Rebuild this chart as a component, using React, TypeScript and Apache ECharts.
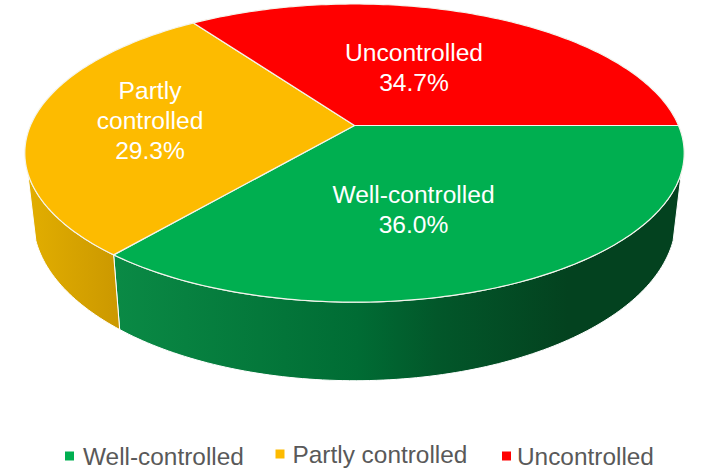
import React, { useEffect, useRef } from "react";
import * as echarts from "echarts";

const categories = ["Well-controlled", "Partly controlled", "Uncontrolled"];
const labelLines = ["Well-controlled", "Partly\ncontrolled", "Uncontrolled"];
const values = [36.0, 29.3, 34.7];
const topColors = ["#00AF50", "#FDBB00", "#FF0000"];
const wallStops = [
  [[0, "#0A8A45"], [0.43, "#006C34"], [0.57, "#02572A"], [0.8, "#03421F"], [1, "#03421F"]],
  [[0, "#E2AE00"], [1, "#CB9800"]],
  [[0, "#990000"], [1, "#990000"]],
];
const labelAnchors = [[413.5, 209], [150, 120], [414, 67]];
const legendLefts = [60, 270.5, 497];
const legendTops = [439, 437, 439];
const legendPadding = [
  [0, 0, 0, 4],
  [0, 0, 4, 3],
  [0, 0, 0, 1],
];

// perspective model of the tilted pie
const CX = 354.5, CY = 125.5, RX = 324, RY = 144, K = 0.185;
const DEPTH = 64, SHRINK = 0.975;
// the wall is only visible between these two silhouette angles
const WALL_FROM = 18, WALL_TO = 162;
const total = values.reduce((a, b) => a + b, 0);

function project(deg: number, lower: boolean): number[] {
  const t = (deg * Math.PI) / 180;
  const u = Math.cos(t);
  const v = -Math.sin(t);
  const s = 1 + K * v;
  const x = (RX * u) / s;
  const y = CY - (RY * v) / s;
  if (!lower) return [CX + x, y];
  return [CX + x * SHRINK, y + DEPTH / s];
}

function arc(from: number, to: number, lower: boolean): number[][] {
  const pts: number[][] = [];
  const n = Math.max(2, Math.ceil(Math.abs(to - from)));
  for (let i = 0; i <= n; i++) pts.push(project(from + ((to - from) * i) / n, lower));
  return pts;
}

export default function App() {
  const ref = useRef<HTMLDivElement>(null);
  useEffect(() => {
    const chart = echarts.init(ref.current!, undefined, { renderer: "svg" });
    const starts: number[] = [];
    values.reduce((acc, v, i) => {
      starts[i] = acc;
      return acc + v;
    }, 0);
    const series = categories.map((name, idx) => ({
      type: "custom",
      name,
      coordinateSystem: "none",
      silent: true,
      itemStyle: { color: topColors[idx] },
      data: [[values[idx]]],
      renderItem: (_p: any, api: any) => {
        const val = api.value(0) as number;
        const from = (starts[idx] / total) * 360;
        const to = from + (val / total) * 360;
        const top = arc(from, to, false);
        const children: any[] = [];
        const wFrom = Math.max(from, WALL_FROM);
        const wTo = Math.min(to, WALL_TO);
        if (wTo > wFrom) {
          const wallTop = arc(wFrom, wTo, false);
          const wallBottom = arc(wFrom, wTo, true).reverse();
          const xs = wallTop.concat(wallBottom).map((p) => p[0]);
          children.push({
            type: "polygon",
            z2: 1,
            shape: { points: wallTop.concat(wallBottom) },
            style: {
              fill: {
                type: "linear",
                x: Math.min(...xs),
                y: 0,
                x2: Math.max(...xs),
                y2: 0,
                global: true,
                colorStops: wallStops[idx].map((s) => ({ offset: s[0], color: s[1] })),
              },
              stroke: "#FFFFFF",
              lineWidth: 1,
            },
          });
        }
        children.push(
          {
            type: "polygon",
            z2: 2,
            shape: { points: [[CX, CY], ...top] },
            style: { fill: topColors[idx], stroke: "#F4F4EC", lineWidth: 1.2, lineJoin: "round" },
          },
          {
            type: "text",
            z2: 3,
            x: labelAnchors[idx][0],
            y: labelAnchors[idx][1],
            style: {
              text: `${labelLines[idx]}\n${val.toFixed(1)}%`,
              fill: "#FFFFFF",
              fontSize: 24.6,
              fontFamily: "'Liberation Sans', Arial, sans-serif",
              lineHeight: 30,
              align: "center",
              verticalAlign: "middle",
            },
          }
        );
        return { type: "group", children };
      },
    }));
    chart.setOption({
      animation: false,
      backgroundColor: "#FFFFFF",
      legend: categories.map((name, i) => ({
        data: [{ name, icon: "rect" }],
        left: legendLefts[i],
        top: legendTops[i],
        itemWidth: 9,
        itemHeight: 9,
        selectedMode: false,
        textStyle: {
          fontSize: 24.4,
          color: "#595959",
          fontFamily: "'Liberation Sans', Arial, sans-serif",
          padding: legendPadding[i],
        },
      })),
      series,
    } as any);
    return () => chart.dispose();
  }, []);
  return <div ref={ref} style={{ position: "fixed", left: 0, top: 0, width: 708, height: 473 }} />;
}
